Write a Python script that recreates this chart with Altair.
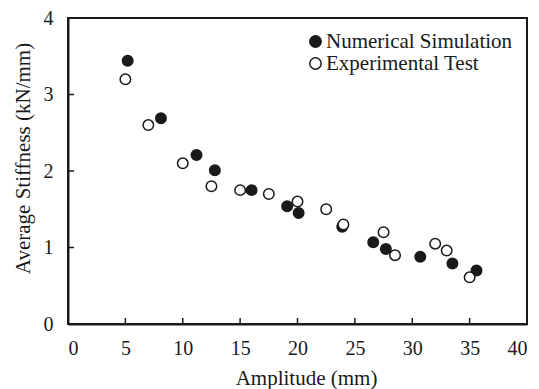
import altair as alt
import pandas as pd

num_x = [5.2, 8.1, 11.2, 12.8, 16.0, 19.1, 20.1, 23.9, 26.6, 27.7, 30.7, 33.5, 35.6]
num_y = [3.44, 2.69, 2.21, 2.01, 1.75, 1.54, 1.45, 1.27, 1.07, 0.98, 0.88, 0.79, 0.70]
exp_x = [5.0, 7.0, 10.0, 12.5, 15.0, 17.5, 20.0, 22.5, 24.0, 27.5, 28.5, 32.0, 33.0, 35.0]
exp_y = [3.20, 2.60, 2.10, 1.80, 1.75, 1.70, 1.60, 1.50, 1.30, 1.20, 0.90, 1.05, 0.96, 0.61]
series = ["Numerical Simulation", "Experimental Test"]
x_ticks = [0, 5, 10, 15, 20, 25, 30, 35, 40]
y_ticks = [0, 1, 2, 3, 4]

FONT = "Liberation Serif"
INK = "#1a1a1a"
W, H = 459, 306

df = pd.concat([
    pd.DataFrame({"x": num_x, "y": num_y, "s": series[0]}),
    pd.DataFrame({"x": exp_x, "y": exp_y, "s": series[1]}),
])

xs = alt.Scale(domain=[0, 40], nice=False)
ys = alt.Scale(domain=[0, 4], nice=False)

points = alt.Chart(df).mark_point(filled=True, size=110, stroke=INK, strokeWidth=1.5, opacity=1).encode(
    x=alt.X("x:Q", scale=xs, axis=alt.Axis(values=x_ticks, format="d", title="Amplitude (mm)", tickSize=0,
                                           domain=True, domainColor=INK, domainWidth=2, grid=False,
                                           labelPadding=14,
                                           titleX=238, titleY=60, titleBaseline="alphabetic")),
    y=alt.Y("y:Q", scale=ys, axis=alt.Axis(values=y_ticks, format="d", title="Average Stiffness (kN/mm)", tickSize=0,
                                           domain=True, domainColor=INK, domainWidth=2, grid=False,
                                           labelPadding=15,
                                           titleX=-39, titleY=140, titleBaseline="alphabetic")),
    fill=alt.Fill("s:N", scale=alt.Scale(domain=series, range=[INK, "white"]),
                  legend=alt.Legend(title=None, orient="none", legendX=237, legendY=13,
                                    symbolType="circle", symbolSize=130, symbolStrokeColor=INK,
                                    symbolStrokeWidth=1.5, labelFont=FONT, labelFontSize=21,
                                    labelLimit=400, labelColor=INK, labelOffset=0, rowPadding=0,
                                    padding=0)),
)

# inward tick marks as small filled ticks
xt = pd.DataFrame({"x": x_ticks[1:-1]})
xtick_marks = alt.Chart(xt).mark_tick(color=INK, orient="vertical", thickness=1.5, size=6, opacity=1).encode(
    x=alt.X("x:Q", scale=xs), y=alt.value(H - 3))
yt = pd.DataFrame({"y": y_ticks[1:-1]})
ytick_marks = alt.Chart(yt).mark_tick(color=INK, orient="horizontal", thickness=1.5, size=6, opacity=1).encode(
    y=alt.Y("y:Q", scale=ys), x=alt.value(3))

chart = alt.layer(xtick_marks, ytick_marks, points).properties(
    width=W, height=H,
    autosize=alt.AutoSizeParams(type="none"),
    padding={"left": 68, "top": 18, "right": 12, "bottom": 65},
).configure_view(stroke=INK, strokeWidth=2).configure_axis(
    labelFont=FONT, labelFontSize=20, labelColor=INK,
    titleFont=FONT, titleFontSize=21, titleColor=INK, titleFontWeight="normal",
)

chart.save("out.html", embed_options={"renderer": "svg", "actions": False})
